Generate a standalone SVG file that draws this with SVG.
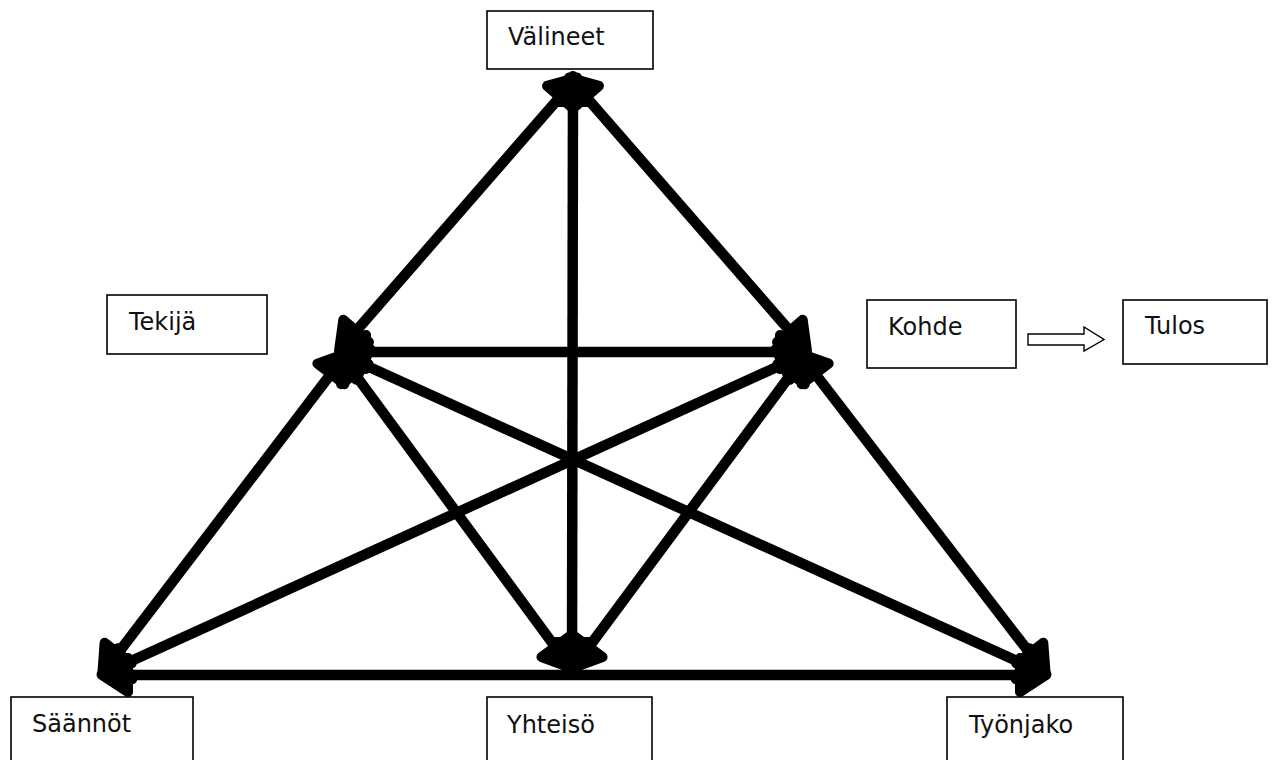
<svg xmlns="http://www.w3.org/2000/svg" width="1275" height="760" viewBox="0 0 1275 760">
<style>
.box{fill:#fff;stroke:#000;stroke-width:1.6}
.lbl{font-family:"DejaVu Sans",Verdana,sans-serif;font-size:24px;fill:#111}
.edge{stroke:#000;stroke-width:10.5;fill:none;marker-start:url(#ah);marker-end:url(#ah)}
</style>
<defs>
<marker id="ah" markerUnits="userSpaceOnUse" orient="auto-start-reverse" refX="0" refY="0" markerWidth="60" markerHeight="60" viewBox="-40 -30 60 60" overflow="visible">
<path d="M-20 -17 L6 0 L-20 17 Z" fill="#000" stroke="#000" stroke-width="10" stroke-linejoin="round" stroke-linecap="round"/>
</marker>
</defs>
<rect width="1275" height="760" fill="#fff"/>
<g id="connectors">
<line class="edge" x1="573" y1="82" x2="343" y2="346"/>
<line class="edge" x1="573" y1="82" x2="803" y2="346"/>
<line class="edge" x1="573" y1="82" x2="572" y2="662"/>
<line class="edge" x1="346" y1="352" x2="800" y2="352"/>
<line class="edge" x1="343" y1="358" x2="106" y2="669"/>
<line class="edge" x1="343" y1="358" x2="567" y2="663"/>
<line class="edge" x1="345" y1="356" x2="1041" y2="672"/>
<line class="edge" x1="803" y1="358" x2="1042" y2="669"/>
<line class="edge" x1="803" y1="358" x2="577" y2="663"/>
<line class="edge" x1="801" y1="356" x2="107" y2="672"/>
<line class="edge" x1="108" y1="675" x2="1040" y2="675"/>
<polygon points="1028,334 1084,334 1084,327 1104,339.5 1084,351 1084,345 1028,345" fill="#fff" stroke="#000" stroke-width="1.4"/>
</g>
<g id="valineet"><rect class="box" x="487" y="11" width="166" height="58"/><text class="lbl" x="508" y="45">Välineet</text></g>
<g id="tekija"><rect class="box" x="107" y="295" width="160" height="59"/><text class="lbl" x="129" y="330">Tekijä</text></g>
<g id="kohde"><rect class="box" x="867" y="300" width="149" height="68"/><text class="lbl" x="888" y="335">Kohde</text></g>
<g id="tulos"><rect class="box" x="1123" y="300" width="144" height="64"/><text class="lbl" x="1145" y="334">Tulos</text></g>
<g id="saannot"><rect class="box" x="11" y="697" width="182" height="90"/><text class="lbl" x="32" y="732">Säännöt</text></g>
<g id="yhteiso"><rect class="box" x="487" y="697" width="165" height="90"/><text class="lbl" x="507" y="733">Yhteisö</text></g>
<g id="tyonjako"><rect class="box" x="947" y="697" width="176" height="90"/><text class="lbl" x="969" y="733">Työnjako</text></g>
</svg>
